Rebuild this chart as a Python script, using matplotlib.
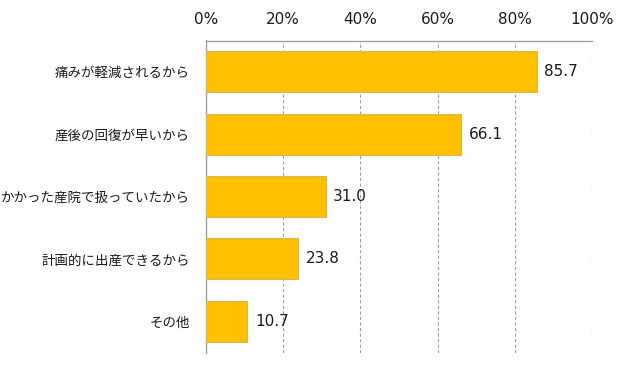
import matplotlib
matplotlib.use("Agg")
import matplotlib.pyplot as plt
from matplotlib.ticker import FuncFormatter

plt.rcParams['font.family'] = ['Noto Sans CJK JP', 'DejaVu Sans']

categories = ["痛みが軽減されるから", "産後の回復が早いから", "かかった産院で扱っていたから",
              "計画的に出産できるから", "その他"]
values = [85.7, 66.1, 31.0, 23.8, 10.7]
xticks = [0, 20, 40, 60, 80, 100]

fig = plt.figure(figsize=(6.31, 3.68), dpi=100)
ax = fig.add_axes([206/631, 1 - 352.5/368, (592-206)/631, (352.5-40.5)/368])

y = list(range(len(categories)))
ax.barh(y, values, height=0.66, color="#FFC000", edgecolor="#D8B55A", linewidth=0.8, zorder=3)
ax.set_ylim(len(categories) - 0.5, -0.5)
ax.set_xlim(0, 100)
ax.set_yticks(y)
ax.set_yticklabels(categories, fontsize=9.7, color="#1a1a1a")
ax.set_xticks(xticks)
ax.xaxis.set_major_formatter(FuncFormatter(lambda v, p: f"{v:.0f}%"))
ax.xaxis.tick_top()
for lbl in ax.get_xticklabels():
    lbl.set_family('DejaVu Sans')
ax.tick_params(axis='x', length=0, pad=10, labelsize=11, labelcolor="#1a1a1a")
ax.tick_params(axis='y', length=0, pad=11.5)
ax.grid(axis='x', color="#A0A0A0", linestyle=(0, (3, 2)), linewidth=0.8, zorder=0)
for s in ['right', 'bottom']:
    ax.spines[s].set_visible(False)
for s in ['left', 'top']:
    ax.spines[s].set_color("#A0A0A0")
    ax.spines[s].set_linewidth(1.0)

for yi, v in zip(y, values):
    ax.annotate(f"{v:.1f}", xy=(v, yi), xytext=(5.5, 0), textcoords='offset points',
                va='center', ha='left', fontsize=11, family='DejaVu Sans',
                color="#1a1a1a", zorder=4)

fig.savefig("out.png", dpi=100)
